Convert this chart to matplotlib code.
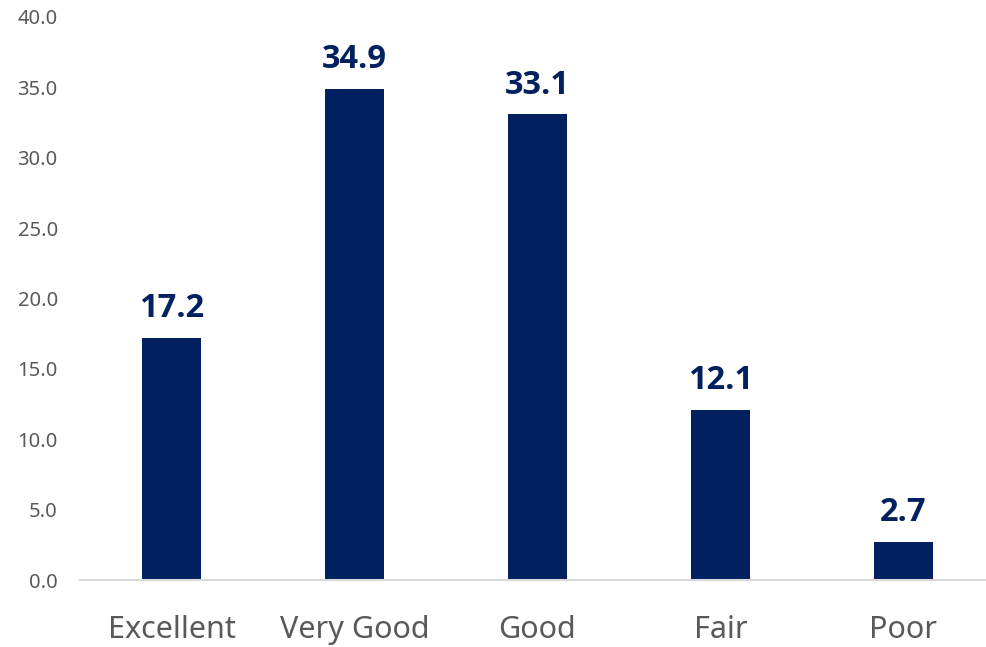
import matplotlib
matplotlib.use("Agg")
import matplotlib.pyplot as plt

categories = ["Excellent", "Very Good", "Good", "Fair", "Poor"]
values = [17.2, 34.9, 33.1, 12.1, 2.7]
yticks = [0, 5, 10, 15, 20, 25, 30, 35, 40]

plt.rcParams['font.family'] = ['Noto Sans', 'DejaVu Sans']

fig = plt.figure(figsize=(9.87, 6.47), dpi=100)
ax = fig.add_axes([80/987, 67/647, 907/987, 563/647])

x = list(range(len(categories)))
bars = ax.bar(x, values, width=0.32, color="#00205F")

for xi, v in zip(x, values):
    ax.annotate(f"{v:.1f}", (xi, v), xytext=(0, 9), textcoords="offset points",
                ha="center", va="bottom", fontsize=23.5, fontweight="bold", color="#00205F",
                family=["Open Sans", "DejaVu Sans"])

ax.set_xlim(-0.5, 907/183 - 0.5)
ax.set_ylim(0, 40)
ax.set_yticks(yticks)
ax.set_yticklabels([f"{t:.1f}" for t in yticks])
ax.set_xticks(x)
ax.set_xticklabels(categories)

for s in ["top", "right", "left"]:
    ax.spines[s].set_visible(False)
ax.spines["bottom"].set_color("#D9D9D9")
ax.spines["bottom"].set_linewidth(1.5)

ax.tick_params(axis="y", length=0, pad=16, labelsize=14.5, labelcolor="#595959")
ax.tick_params(axis="x", length=0, pad=25, labelsize=22, labelcolor="#595959")

fig.savefig("out.png", dpi=100)
